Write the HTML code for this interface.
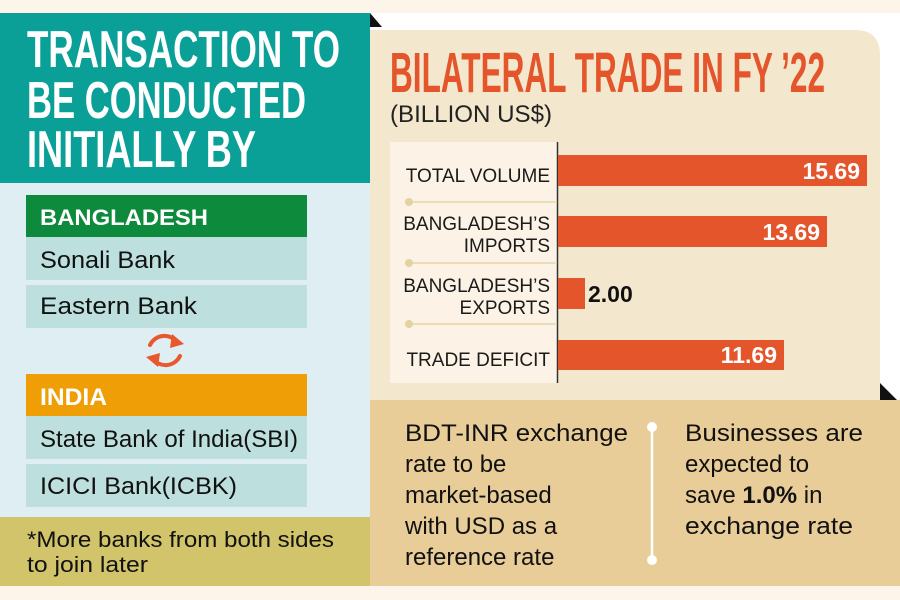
<!DOCTYPE html>
<html><head><meta charset="utf-8"><style>html,body{margin:0;padding:0;background:#fdf4ea}svg{display:block}</style></head>
<body>
<svg width="900" height="600" viewBox="0 0 900 600" xmlns="http://www.w3.org/2000/svg" font-family="Liberation Sans, sans-serif">
<rect width="900" height="600" fill="#fdf4ea"/>
<!-- left panel -->
<rect x="0" y="13" width="370" height="573" fill="#deeef3"/>
<rect x="0" y="13" width="370" height="170" fill="#0aa098"/>
<rect x="0" y="517" width="370" height="69" fill="#d1c46a"/>
<g fill="#fff" font-weight="bold" font-size="52" lengthAdjust="spacingAndGlyphs">
<text x="27" y="67" textLength="313" lengthAdjust="spacingAndGlyphs">TRANSACTION TO</text>
<text x="27" y="118" textLength="279" lengthAdjust="spacingAndGlyphs">BE CONDUCTED</text>
<text x="27" y="167" textLength="229" lengthAdjust="spacingAndGlyphs">INITIALLY BY</text>
</g>
<rect x="26" y="195" width="281" height="42" fill="#0d8a3c"/>
<rect x="26" y="237" width="281" height="43" fill="#bde0de"/>
<rect x="26" y="285" width="281" height="43" fill="#bde0de"/>
<rect x="26" y="374" width="281" height="42" fill="#ef9f05"/>
<rect x="26" y="416" width="281" height="43" fill="#bde0de"/>
<rect x="26" y="464" width="281" height="43" fill="#bde0de"/>
<text x="40" y="225" fill="#fff" font-weight="bold" font-size="22" textLength="168" lengthAdjust="spacingAndGlyphs">BANGLADESH</text>
<text x="40" y="268" fill="#111" font-size="24" textLength="135" lengthAdjust="spacingAndGlyphs">Sonali Bank</text>
<text x="40" y="314" fill="#111" font-size="24" textLength="157" lengthAdjust="spacingAndGlyphs">Eastern Bank</text>
<text x="40" y="405" fill="#fff" font-weight="bold" font-size="24" textLength="67" lengthAdjust="spacingAndGlyphs">INDIA</text>
<text x="40" y="447" fill="#111" font-size="24" textLength="258" lengthAdjust="spacingAndGlyphs">State Bank of India(SBI)</text>
<text x="40" y="494" fill="#111" font-size="24" textLength="197" lengthAdjust="spacingAndGlyphs">ICICI Bank(ICBK)</text>
<text x="27" y="547" fill="#111" font-size="22" textLength="307" lengthAdjust="spacingAndGlyphs">*More banks from both sides</text>
<text x="27" y="572" fill="#111" font-size="22" textLength="121" lengthAdjust="spacingAndGlyphs">to join later</text>
<!-- arrows -->
<g fill="none" stroke="#e9572c" stroke-width="4" stroke-linecap="round">
<path d="M150 345 A16 16 0 0 1 177 342"/>
<path d="M180 356 A16 16 0 0 1 153 359"/>
</g>
<path d="M172 334 L184 344 L170 348 Z" fill="#e9572c"/>
<path d="M158 367 L146 357 L160 353 Z" fill="#e9572c"/>
<!-- right top -->
<rect x="370" y="13" width="530" height="387" fill="#fff"/>
<path d="M370 30 H855 Q880 30 880 55 V400 H370 Z" fill="#f3e8cd"/>
<path d="M370 13 L382 27 L370 27 Z" fill="#111"/>
<path d="M880 383 L897 400 L880 400 Z" fill="#111"/>
<text x="390" y="92" fill="#e4552c" font-weight="bold" font-size="57" textLength="435" lengthAdjust="spacingAndGlyphs">BILATERAL TRADE IN FY ’22</text>
<text x="390" y="122" fill="#222" font-size="24" textLength="162" lengthAdjust="spacingAndGlyphs">(BILLION US$)</text>
<rect x="390" y="142" width="167" height="241" fill="#fcf3e6"/>
<line x1="557.5" y1="142" x2="557.5" y2="383" stroke="#333" stroke-width="1.5"/>
<g stroke="#e6d6a6" stroke-width="1.5"><line x1="408" y1="202" x2="557" y2="202"/><line x1="408" y1="263" x2="557" y2="263"/><line x1="408" y1="324" x2="557" y2="324"/></g>
<g fill="#e3d39e"><circle cx="409" cy="202" r="4"/><circle cx="409" cy="263" r="4"/><circle cx="409" cy="324" r="4"/></g>
<g fill="#e4552c">
<rect x="558" y="155" width="309" height="31"/>
<rect x="558" y="216" width="269" height="31"/>
<rect x="558" y="278" width="27" height="31"/>
<rect x="558" y="340" width="226" height="30"/>
</g>
<g fill="#1a1a1a" font-size="19" text-anchor="end">
<text x="550" y="182">TOTAL VOLUME</text>
<text x="550" y="230">BANGLADESH’S</text>
<text x="550" y="252">IMPORTS</text>
<text x="550" y="292">BANGLADESH’S</text>
<text x="550" y="314">EXPORTS</text>
<text x="550" y="366">TRADE DEFICIT</text>
</g>
<g fill="#fff" font-weight="bold" font-size="23" text-anchor="end">
<text x="860" y="179">15.69</text>
<text x="820" y="240">13.69</text>
<text x="777" y="363">11.69</text>
</g>
<text x="588" y="302" fill="#111" font-weight="bold" font-size="23">2.00</text>
<!-- bottom right -->
<rect x="370" y="400" width="530" height="186" fill="#e9cd99"/>
<line x1="652" y1="427" x2="652" y2="560" stroke="#fff" stroke-width="2.5"/>
<circle cx="652" cy="427" r="5" fill="#fff"/><circle cx="652" cy="560" r="5" fill="#fff"/>
<g fill="#111" font-size="24">
<text x="405" y="441" textLength="223" lengthAdjust="spacingAndGlyphs">BDT-INR exchange</text>
<text x="405" y="472">rate to be</text>
<text x="405" y="503">market-based</text>
<text x="405" y="534">with USD as a</text>
<text x="405" y="565">reference rate</text>
<text x="685" y="441" textLength="178" lengthAdjust="spacingAndGlyphs">Businesses are</text>
<text x="685" y="472">expected to</text>
<text x="685" y="503">save <tspan font-weight="bold">1.0%</tspan> in</text>
<text x="685" y="534" textLength="168" lengthAdjust="spacingAndGlyphs">exchange rate</text>
</g>
</svg>
</body></html>
